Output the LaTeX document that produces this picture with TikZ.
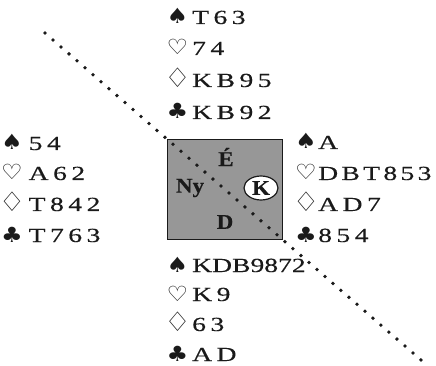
\documentclass[tikz,border=0pt]{standalone}
\usepackage{graphicx}
\usepackage{fontspec}
\setmainfont{Liberation Serif}[FakeStretch=1.38, WordSpace=0.65, FakeBold=0.4]
\newfontfamily\suitfont{DejaVu Sans}[FakeStretch=1.15]
\newfontfamily\labfont{Liberation Serif}[FakeStretch=1.1, FakeBold=0.3]
\definecolor{ink}{HTML}{1A1A1A}
\definecolor{boxgray}{HTML}{979797}
\newcommand\dmd{\raisebox{-0.8pt}{\scalebox{1.22}[1.28]{♢}}}
\tikzset{
  cards/.style={anchor=base west, inner sep=0pt, text=ink, font=\fontsize{20}{20}\selectfont},
  suit/.style={anchor=base, inner sep=0pt, text=ink, font=\suitfont\fontsize{21}{21}\selectfont},
  seat/.style={inner sep=0pt, text=ink, font=\labfont\bfseries\fontsize{21}{21}\selectfont},
  table/.style={draw=ink, line width=1.4pt, fill=boxgray},
  dots/.style={draw=ink, line width=3.8pt, line cap=round, dash pattern=on 0pt off 10.6pt},
  declarer/.style={draw=ink, line width=1.2pt, fill=white, ellipse, minimum width=34pt, minimum height=24pt, inner sep=0pt}
}
\usetikzlibrary{shapes.geometric}
\begin{document}
\begin{tikzpicture}[x=1pt,y=-1pt]
\useasboundingbox (0,0) rectangle (436,366);
% table
\node[table, minimum width=115pt, minimum height=100pt, inner sep=0pt, anchor=north west] (box) at (167,139) {};
\coordinate (lineA) at (45,33);
\coordinate (lineB) at (421,360);
\draw[dots] (lineA) -- (lineB);
\node[seat] (e) at (226,157) {É};
\node[seat] (ny) at (190,188) {Ny};
\node[seat] (d) at (225,222) {D};
\node[declarer] (kc) at (261,188) {};
\node[seat] (k) at (kc) {K};
% North
\node[suit] (ns) at (177.5,24) {♠};
\node[cards] (nsc) at (192,24) {T 6 3};
\node[suit] (nh) at (177.5,55) {♡};
\node[cards] (nhc) at (192,55) {7 4};
\node[suit] (nd) at (177.5,87) {\dmd};
\node[cards] (ndc) at (192,87) {K B 9 5};
\node[suit] (nc) at (177.5,119) {♣};
\node[cards] (ncc) at (192,119) {K B 9 2};
% West
\node[suit] (ws) at (12,150) {♠};
\node[cards] (wsc) at (28.5,150) {5 4};
\node[suit] (wh) at (12,180) {♡};
\node[cards] (whc) at (28.5,180) {A 6 2};
\node[suit] (wd) at (12,211) {\dmd};
\node[cards] (wdc) at (28.5,211) {T 8 4 2};
\node[suit] (wc) at (12,242) {♣};
\node[cards] (wcc) at (28.5,242) {T 7 6 3};
% East
\node[suit] (es) at (306,149) {♠};
\node[cards] (esc) at (318,149) {A};
\node[suit] (eh) at (306,180) {♡};
\node[cards] (ehc) at (318,180) {D\,B\,T\,8\,5\,3};
\node[suit] (ed) at (306,211) {\dmd};
\node[cards] (edc) at (318,211) {A D 7};
\node[suit] (ec) at (306,242) {♣};
\node[cards] (ecc) at (318,242) {8 5 4};
% South
\node[suit] (ss) at (177.5,272) {♠};
\node[cards] (ssc) at (192,272) {KDB9872};
\node[suit] (sh) at (177.5,301) {♡};
\node[cards] (shc) at (192,301) {K 9};
\node[suit] (sd) at (177.5,331) {\dmd};
\node[cards] (sdc) at (192,331) {6 3};
\node[suit] (sc) at (177.5,361) {♣};
\node[cards] (scc) at (192,361) {A D};
\end{tikzpicture}
\end{document}
